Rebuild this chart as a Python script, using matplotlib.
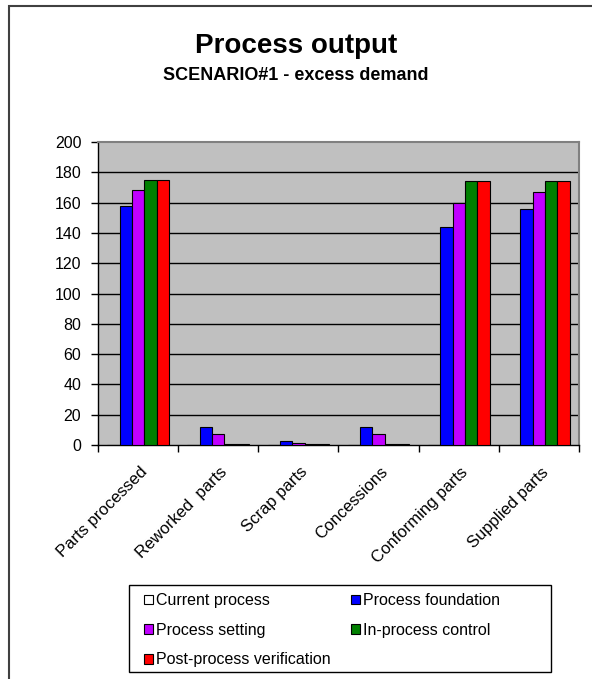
import matplotlib.pyplot as plt
import matplotlib.patches as patches
import numpy as np

plt.rcParams['font.family'] = ['Liberation Sans', 'DejaVu Sans']

# data
categories = ['Parts processed', 'Reworked  parts', 'Scrap parts', 'Concessions',
              'Conforming parts', 'Supplied parts']
series = ['Current process', 'Process foundation', 'Process setting',
          'In-process control', 'Post-process verification']
current = [0, 0, 0, 0, 0, 0]
foundation = [158, 12, 2.5, 12, 144, 156]
setting = [168, 7, 1.5, 7, 160, 167]
inprocess = [175, 0.4, 0.4, 0.4, 174, 174]
postprocess = [175, 0.4, 0.4, 0.4, 174, 174]
values = [current, foundation, setting, inprocess, postprocess]
colors = ['white', '#0000FF', '#C000FF', '#008000', '#FF0000']

W, H = 592, 679
fig = plt.figure(figsize=(W / 100, H / 100), dpi=100)
ax = fig.add_axes([98 / W, 1 - 445 / H, (579 - 98) / W, (445 - 142) / H])
ax.set_facecolor('#C0C0C0')

x = np.arange(len(categories))
w = 1 / 6.5
bars = []
for i in range(len(series)):
    b = ax.bar(x + (i - 2) * w, values[i], w, color=colors[i],
               edgecolor='black', linewidth=0.8, label=series[i], zorder=3)
    bars.append(b)

ax.set_xlim(-0.5, len(categories) - 0.5)
ax.set_ylim(0, 200)
ax.set_yticks(range(0, 201, 20))
for yv in range(20, 200, 20):
    ax.axhline(yv, color='black', linewidth=1, zorder=1)

# ticks at category boundaries, labels at centers
ax.set_xticks(np.arange(-0.5, len(categories), 1))
ax.set_xticklabels([])
ax.set_xticks(x + 0.02, minor=True)
ax.set_xticklabels(categories, minor=True, rotation=45, ha='right', va='top',
                   rotation_mode='anchor', fontsize=12)
ax.tick_params(axis='x', which='minor', length=0, pad=14)
ax.tick_params(axis='x', which='major', length=5, width=1, direction='out')
ax.tick_params(axis='y', length=5, width=1, direction='out', labelsize=11.5, pad=7)

for s in ['left', 'bottom']:
    ax.spines[s].set_color('black')
    ax.spines[s].set_linewidth(1)
for s in ['top', 'right']:
    ax.spines[s].set_color('#808080')
    ax.spines[s].set_linewidth(1.5)

fig.text(0.5, 1 - 53 / H, 'Process output', ha='center', va='baseline',
         fontsize=20, fontweight='bold')
fig.text(0.5, 1 - 80 / H, 'SCENARIO#1 - excess demand', ha='center', va='baseline',
         fontsize=13, fontweight='bold')

order = [0, 2, 4, 1, 3]
leg = fig.legend([bars[i] for i in order], [series[i] for i in order],
                 ncol=2, loc='upper left', bbox_to_anchor=(144 / W, 1 - 593 / H),
                 frameon=False, fontsize=11.5, handlelength=0.55,
                 handleheight=0.55, handletextpad=0.2, columnspacing=1.3,
                 borderpad=0, borderaxespad=0, labelspacing=0.92)

# legend frame and outer chart border
fig.patches.append(patches.Rectangle((129 / W, 1 - 672 / H), (551 - 129) / W, 87 / H,
                                     transform=fig.transFigure, fill=False,
                                     edgecolor='black', linewidth=1))
fig.patches.append(patches.Rectangle((9 / W, -0.1), 1.2, 1 - 6 / H + 0.1,
                                     transform=fig.transFigure, fill=False,
                                     edgecolor='#404040', linewidth=1.5))

plt.savefig('out.png', dpi=100)
